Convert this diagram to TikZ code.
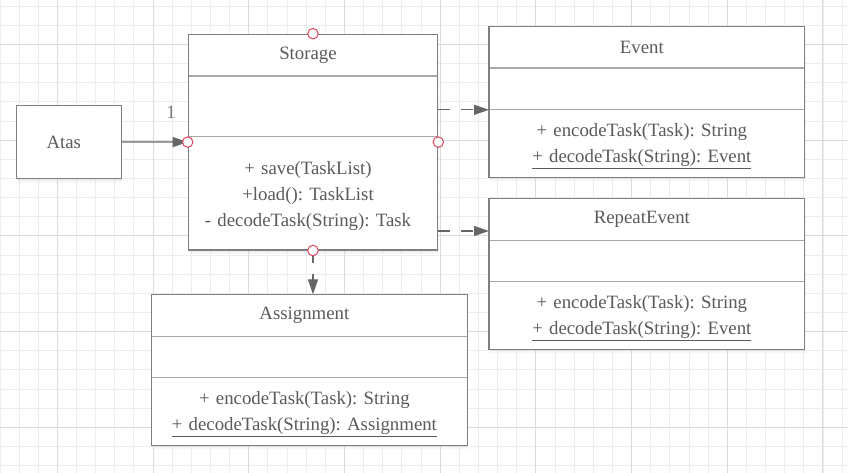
\documentclass[tikz,border=0pt]{standalone}
\usepackage{fontspec}
\setmainfont{Liberation Serif}
\usetikzlibrary{positioning,fit,arrows.meta,shadows}
\definecolor{gridminor}{HTML}{EDEDED}
\definecolor{gridmajor}{HTML}{DCDCDC}
\definecolor{boxline}{HTML}{7F7F7F}
\definecolor{partline}{HTML}{A8A8A8}
\definecolor{umltext}{HTML}{5A5A5A}
\definecolor{linegrey}{HTML}{666666}
\definecolor{handlered}{HTML}{E0475E}
\begin{document}
\begin{tikzpicture}[x=1pt,y=-1pt,
  compartment/.style={fill=white, inner sep=0pt, text=umltext, align=center,
    font=\fontsize{18.8}{26}\selectfont\frenchspacing, minimum width=#1, text width=#1,
    execute at begin node={\leftskip=0pt plus 1fil\rightskip=10pt plus 1fil},
    drop shadow={shadow xshift=1pt, shadow yshift=-4pt, opacity=0.06},
    drop shadow={shadow xshift=0.5pt, shadow yshift=-2pt, opacity=0.08}},
  operations/.style={compartment=#1,
    execute at begin node={\leftskip=0pt plus 1fil\rightskip=10pt plus 1fil\rule{0pt}{18pt}}},
  classframe/.style={draw=boxline, line width=1.2pt, inner sep=0pt},
  divider/.style={draw=partline, line width=1.2pt},
  handle/.style={circle, draw=handlered, fill=white, line width=1pt, inner sep=0pt, minimum size=10.5pt},
  assoc/.style={draw=linegrey, line width=1.3pt, -{Triangle[length=15pt,width=10pt]}},
  depend/.style={assoc, dash pattern=on 12pt off 11pt}]
\useasboundingbox (0,0) rectangle (848,473);
\fill[white] (0,0) rectangle (848,473);
% grid
\foreach \i in {0,...,44} \draw[gridminor, line width=1pt] (\i*19.14,0) -- (\i*19.14,473);
\foreach \j in {0,...,24} \draw[gridminor, line width=1pt] (0,6.2+\j*19.14) -- (848,6.2+\j*19.14);
\foreach \i in {0,...,8} \draw[gridmajor, line width=1pt] (57.3+\i*95.7,0) -- (57.3+\i*95.7,473);
\foreach \j in {0,...,4} \draw[gridmajor, line width=1pt] (0,44.5+\j*95.7) -- (848,44.5+\j*95.7);

% Atas
\node[compartment=105pt, minimum height=73.6pt, anchor=north west, classframe] (atas) at (15.7,104.7) {Atas};

% Storage
\node[compartment=249pt, minimum height=41.4pt, anchor=north west] (storage) at (188.3,34.3) {Storage};
\node[compartment=249pt, minimum height=60.3pt, below=0pt of storage] (storageattr) {};
\node[operations=249pt, minimum height=112.7pt, below=0pt of storageattr] (storageops) {+ save(TaskList)\\+load(): TaskList\\- decodeTask(String): Task};
\draw[divider] (storage.south west) -- (storage.south east);
\draw[divider] (storageattr.south west) -- (storageattr.south east);
\node[classframe, fit=(storage)(storageops)] (storagebox) {};

% Event
\node[compartment=315.3pt, minimum height=41.4pt, anchor=north west] (event) at (489,26.3) {Event};
\node[compartment=315.3pt, minimum height=41.3pt, below=0pt of event] (eventattr) {};
\node[operations=315.3pt, minimum height=67pt, below=0pt of eventattr] (eventops) {+ encodeTask(Task): String\\\underline{+ decodeTask(String): Event}};
\draw[divider] (event.south west) -- (event.south east);
\draw[divider] (eventattr.south west) -- (eventattr.south east);
\node[classframe, fit=(event)(eventops)] (eventbox) {};

% RepeatEvent
\node[compartment=315.3pt, minimum height=41.3pt, anchor=north west] (repeatevent) at (489,198.7) {RepeatEvent};
\node[compartment=315.3pt, minimum height=41pt, below=0pt of repeatevent] (repeateventattr) {};
\node[operations=315.3pt, minimum height=67pt, below=0pt of repeateventattr] (repeateventops) {+ encodeTask(Task): String\\\underline{+ decodeTask(String): Event}};
\draw[divider] (repeatevent.south west) -- (repeatevent.south east);
\draw[divider] (repeateventattr.south west) -- (repeateventattr.south east);
\node[classframe, fit=(repeatevent)(repeateventops)] (repeateventbox) {};

% Assignment
\node[compartment=315pt, minimum height=41.7pt, anchor=north west] (assignment) at (151.7,294.3) {Assignment};
\node[compartment=315pt, minimum height=40.7pt, below=0pt of assignment] (assignmentattr) {};
\node[operations=315pt, minimum height=67.3pt, below=0pt of assignmentattr] (assignmentops) {+ encodeTask(Task): String\\\underline{+ decodeTask(String): Assignment}};
\draw[divider] (assignment.south west) -- (assignment.south east);
\draw[divider] (assignmentattr.south west) -- (assignmentattr.south east);
\node[classframe, fit=(assignment)(assignmentops)] (assignmentbox) {};

% connectors
\draw[assoc] (atas) -- (storagebox.west);
\node[text=boxline, font=\fontsize{18.8}{20}\selectfont] (mult) at (171,112) {1};
\draw[depend] (storagebox.east |- eventattr.south) -- (eventattr.south west);
\draw[depend] (storagebox.east |- 0,231) -- (repeatevent.west |- 0,231);
\draw[depend] (storagebox.south) -- (storagebox.south |- assignment.north);

% handles
\node[handle] (handlenorth) at (storagebox.north) {};
\node[handle] (handlewest) at (storagebox.west) {};
\node[handle] (handleeast) at (storagebox.east) {};
\node[handle] (handlesouth) at (storagebox.south) {};
\end{tikzpicture}
\end{document}
